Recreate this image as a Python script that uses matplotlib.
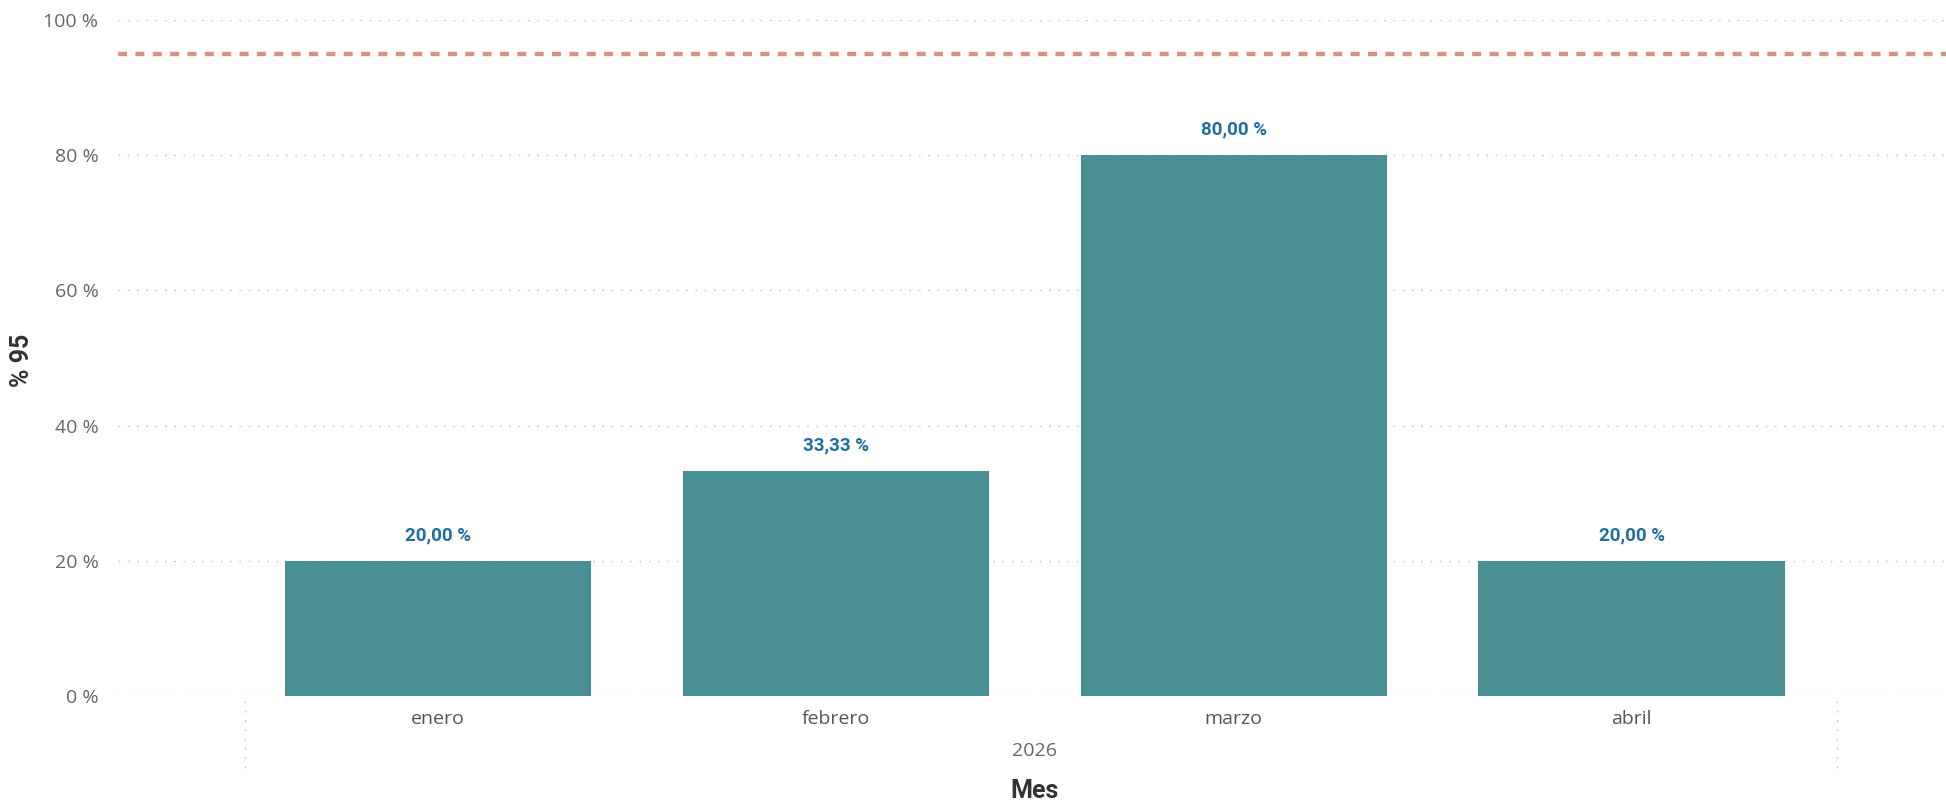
import matplotlib.pyplot as plt
import matplotlib.transforms as mtransforms

# chart data
months = ['enero', 'febrero', 'marzo', 'abril']
pct_95 = [20.0, 33.33, 80.0, 20.0]
year_label = '2026'
target = 95
y_ticks = [0, 20, 40, 60, 80, 100]

plt.rcParams['font.family'] = ['Open Sans', 'DejaVu Sans']
plt.rcParams['lines.scale_dashes'] = False

fig = plt.figure(figsize=(19.46, 8.01), dpi=100)
ax = fig.add_axes([0.0606, 0.131, 0.9394, 0.844])

x = list(range(len(months)))
ax.bar(x, pct_95, width=0.77, color='#4A8F94', zorder=3)

# data labels
for xi, v in zip(x, pct_95):
    lbl = f'{v:.2f}'.replace('.', ',') + ' %'
    ax.annotate(lbl, (xi, v), xytext=(0, 12), textcoords='offset points',
                ha='center', va='bottom', fontsize=13.5, fontweight='bold',
                color='#1F6F9F', family=['Roboto', 'DejaVu Sans'])

# target line
ax.axhline(target, color='#D49484', lw=3.2, linestyle=(0, (6.5, 6)), zorder=4)

ax.set_xlim(-0.804, 3.79)
ax.set_ylim(0, 100)
ax.set_yticks(y_ticks)
ax.set_yticklabels([f'{t} %' for t in y_ticks])
ax.set_xticks(x)
ax.set_xticklabels(months)
ax.tick_params(axis='y', length=0, pad=14, labelsize=14, labelcolor='#666666')
ax.tick_params(axis='x', length=0, pad=10, labelsize=14, labelcolor='#555555')

ax.yaxis.grid(True, color='#C4C4C4', lw=1, linestyle=(0, (1.2, 5.5)), zorder=0)
for s in ax.spines.values():
    s.set_visible(False)

# hierarchy separators and year label
trans = mtransforms.blended_transform_factory(ax.transData, ax.transAxes)
for sx in [-0.485, len(months) - 0.485]:
    ax.plot([sx, sx], [-0.008, -0.108], transform=trans, clip_on=False,
            color='#C4C4C4', lw=1, linestyle=(0, (1.2, 5.5)))
ax.text((len(months) - 1) / 2, -0.081, year_label, transform=trans,
        ha='center', va='center', fontsize=14, color='#666666')

ax.text((len(months) - 1) / 2, -0.14, 'Mes', transform=trans,
        ha='center', va='center', fontsize=18, fontweight='bold',
        color='#333333', family=['Roboto', 'DejaVu Sans'])
fig.text(0.0115, 0.55, '% 95', rotation=90, ha='center', va='center',
         fontsize=18, fontweight='bold', color='#333333',
         family=['Roboto', 'DejaVu Sans'])

fig.savefig('out.png', dpi=100)
